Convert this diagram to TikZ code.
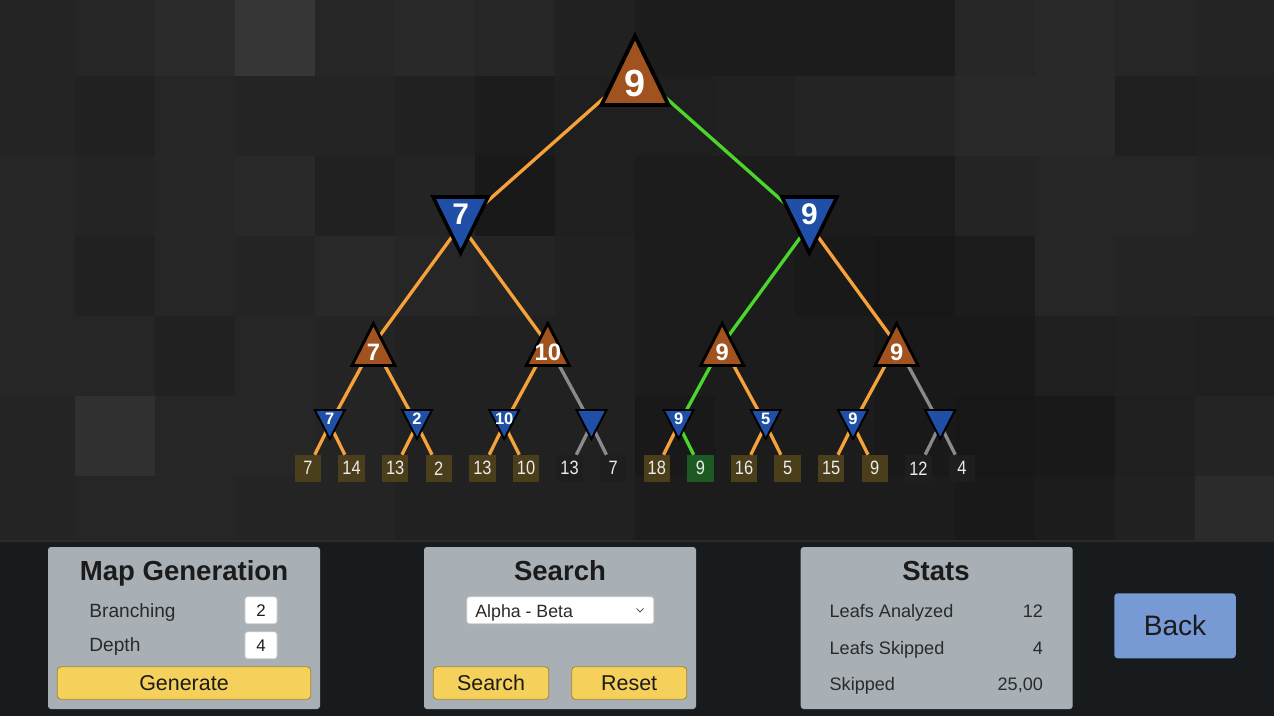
\documentclass[tikz,border=0pt]{standalone}
\usepackage{fontspec}
\usepackage{graphicx}
\setmainfont{Liberation Sans}

\definecolor{maxbrown}{HTML}{A0531F}
\definecolor{minblue}{HTML}{1F4FA6}
\definecolor{edgeorange}{HTML}{F7A13A}
\definecolor{edgegreen}{HTML}{4AD62B}
\definecolor{edgegray}{HTML}{8A8A8A}
\definecolor{leafolive}{HTML}{4A3E1B}
\definecolor{leafgreen}{HTML}{1D5A23}
\definecolor{leafdark}{HTML}{1E1E1F}
\definecolor{barbg}{HTML}{171B1E}
\definecolor{panelgray}{HTML}{A9B0B5}
\definecolor{btnyellow}{HTML}{F5D15B}
\definecolor{btnedge}{HTML}{A88A2E}
\definecolor{backblue}{HTML}{7799D4}
\definecolor{inkdark}{HTML}{1B1B1B}
\definecolor{inkrow}{HTML}{2A2A2A}

\newcommand{\fsz}[1]{\fontsize{#1}{#1}\selectfont}
\newcommand{\narrow}[1]{\scalebox{0.85}[1]{#1}}
% max node: apex up, min node: apex down
\newcommand{\maxtri}[4]{\filldraw[#4, shift={(#1)}] (-#2,#3) -- (#2,#3) -- (0,-#3) -- cycle;}
\newcommand{\mintri}[4]{\filldraw[#4, shift={(#1)}] (-#2,-#3) -- (#2,-#3) -- (0,#3) -- cycle;}

\tikzset{
  edgeor/.style={draw=edgeorange, line width=1.9pt},
  edgegr/.style={draw=edgegreen, line width=1.9pt},
  edgegy/.style={draw=edgegray, line width=1.9pt},
  maxfill/.style={fill=maxbrown, draw=black, line join=miter},
  minfill/.style={fill=minblue, draw=black, line join=miter},
  leaf/.style={minimum size=0.53cm, inner sep=0, text=white!92!black, font=\fsz{11}},
  title/.style={text=inkdark, font=\bfseries\fsz{15.7}, inner sep=0},
  rowtext/.style={text=inkrow, inner sep=0},
  inbox/.style={fill=white, draw=black!22, rounded corners=1.5pt, line width=0.4pt,
    minimum width=0.64cm, minimum height=0.54cm, inner sep=0, text=inkdark, font=\fsz{9.6}},
  btn/.style={fill=btnyellow, draw=btnedge, rounded corners=2pt, line width=0.5pt,
    minimum height=0.65cm, inner sep=0, text=inkdark, font=\fsz{12.2}},
}

\begin{document}
\begin{tikzpicture}[x=0.02cm, y=-0.02cm]
\useasboundingbox (0,0) rectangle (1274,716);

% background tiles
\foreach \j/\row in {0/{14,15,17,21,15,16,15,13,11,11,11,11,15,16,15,14},
                     1/{14,13,15,14,14,13,11,12,12,13,14,14,16,16,12,13},
                     2/{15,14,15,16,13,14,10,12,11,11,11,11,14,15,15,14},
                     3/{15,13,15,14,16,15,14,13,11,11,10,9,11,15,14,14},
                     4/{15,15,13,15,14,13,13,13,11,11,11,10,10,12,13,12},
                     5/{14,19,15,15,14,13,13,13,10,11,11,10,9,10,12,14},
                     6/{14,15,15,14,14,13,13,13,11,11,11,11,10,11,13,17}}
  \foreach \g [count=\i from 0] in \row
    \fill[white!\g!black] ({-5+80*\i},{-4+80*\j}) rectangle +(80,80);

% tree positions
\coordinate (R) at (635,70.5);
\coordinate (A1) at (460.6,225);
\coordinate (A2) at (809.4,225);
\coordinate (B1) at (373.4,344.5);
\coordinate (B2) at (547.8,344.5);
\coordinate (B3) at (722.2,344.5);
\coordinate (B4) at (896.6,344.5);
\foreach \k in {1,...,8}
  \coordinate (C\k) at ({329.8+87.2*(\k-1)},424.5);

% edges
\draw[edgeor] (R) -- (A1);
\draw[edgegr] (R) -- (A2);
\draw[edgeor] (A1) -- (B1);
\draw[edgeor] (A1) -- (B2);
\draw[edgegr] (A2) -- (B3);
\draw[edgeor] (A2) -- (B4);
\draw[edgeor] (B1) -- (C1);
\draw[edgeor] (B1) -- (C2);
\draw[edgeor] (B2) -- (C3);
\draw[edgegy] (B2) -- (C4);
\draw[edgegr] (B3) -- (C5);
\draw[edgeor] (B3) -- (C6);
\draw[edgeor] (B4) -- (C7);
\draw[edgegy] (B4) -- (C8);

% leaves
\foreach \v/\f/\e [count=\i] in {7/leafolive/edgeor, 14/leafolive/edgeor, 13/leafolive/edgeor, 2/leafolive/edgeor,
    13/leafolive/edgeor, 10/leafolive/edgeor, 13/leafdark/edgegy, 7/leafdark/edgegy,
    18/leafolive/edgeor, 9/leafgreen/edgegr, 16/leafolive/edgeor, 5/leafolive/edgeor,
    15/leafolive/edgeor, 9/leafolive/edgeor, 12/leafdark/edgegy, 4/leafdark/edgegy}{
  \pgfmathtruncatemacro\p{(\i+1)/2}
  \node[leaf, fill=\f] (D\i) at ({308+43.6*(\i-1)},468.3) {\narrow{\v}};
  \draw[\e] (C\p) -- (D\i);
}

% triangles
\maxtri{R}{33.5}{34.5}{maxfill, line width=2.2pt}
\mintri{A1}{27.5}{28}{minfill, line width=2pt}
\mintri{A2}{27.5}{28}{minfill, line width=2pt}
\foreach \k in {1,...,4}{\maxtri{B\k}{21.5}{21}{maxfill, line width=1.6pt}}
\foreach \k in {1,...,8}{\mintri{C\k}{15}{14.5}{minfill, line width=1.1pt}}

% values
\path (R) ++(0,12.5) node[text=white, font=\bfseries\fsz{21.5}, inner sep=0] (Rv) {9};
\path (A1) ++(0,-11) node[text=white, font=\bfseries\fsz{17}, inner sep=0] (A1v) {7};
\path (A2) ++(0,-11) node[text=white, font=\bfseries\fsz{17}, inner sep=0] (A2v) {9};
\foreach \k/\v in {1/7, 2/10, 3/9, 4/9}
  \path (B\k) ++(0,7.5) node[text=white, font=\bfseries\fsz{13.5}, inner sep=0] (B\k v) {\v};
\foreach \k/\v in {1/7, 2/2, 3/10, 5/9, 6/5, 7/9}
  \path (C\k) ++(0,-6) node[text=white, font=\bfseries\fsz{9.4}, inner sep=0] (C\k v) {\v};

% bottom bar
\fill[barbg] (0,541) rectangle (1274,716);
\draw[white!17!black, line width=0.6pt] (0,541) -- (1274,541);

% map generation panel
\fill[panelgray, rounded corners=1.7pt] (48,547) rectangle (320,709);
\node[title, anchor=base] (mgtitle) at (184,580) {Map Generation};
\node[rowtext, anchor=base west, font=\fsz{10.9}] (branch) at (89,617.3) {Branching};
\node[inbox] (branchval) at (261,610.3) {2};
\node[rowtext, anchor=base west, font=\fsz{10.9}] (depth) at (89,651.7) {Depth};
\node[inbox] (depthval) at (261,645.3) {4};
\node[btn, minimum width=5.07cm] (generate) at (184,683) {Generate};

% search panel
\fill[panelgray, rounded corners=1.7pt] (424,547) rectangle (696,709);
\node[title, anchor=base] (srtitle) at (560,580) {Search};
\node[inbox, minimum width=3.74cm] (algo) at (560.3,610.3) {};
\node[rowtext, anchor=base west, font=\fsz{10.1}] (algotext) at (475,617.3) {Alpha - Beta};
\draw[black!65, line width=0.5pt] (636.5,608.5) -- (640,612) -- (643.5,608.5);
\node[btn, minimum width=2.31cm] (search) at (491,683) {Search};
\node[btn, minimum width=2.3cm] (reset) at (629.2,683) {Reset};

% stats panel
\fill[panelgray, rounded corners=1.7pt] (800.7,547) rectangle (1072.7,709);
\node[title, anchor=base] (sttitle) at (936,580) {Stats};
\foreach \t/\v/\y [count=\i] in {Leafs Analyzed/12/617.3, Leafs Skipped/4/654, Skipped/{25,00}/690.7}{
  \node[rowtext, anchor=base west, font=\fsz{10.3}] (stat\i) at (829.3,\y) {\t};
  \node[rowtext, anchor=base east, font=\fsz{10.3}] (stat\i v) at (1043.3,\y) {\v};
}

% back button
\node[fill=backblue, rounded corners=2pt, minimum width=2.43cm, minimum height=1.3cm,
  inner sep=0, text=inkdark, font=\fsz{16}] (back) at (1175,625.8) {Back};
\end{tikzpicture}
\end{document}
